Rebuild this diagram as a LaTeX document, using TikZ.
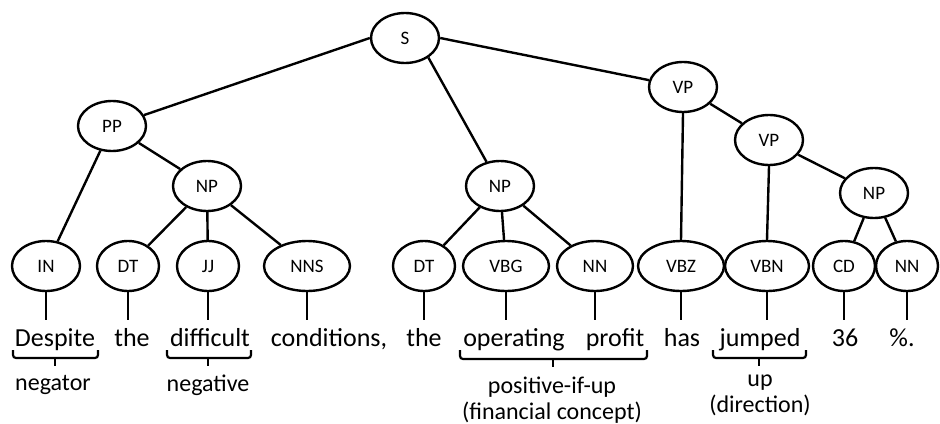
\documentclass[tikz,border=0pt]{standalone}
\usepackage{fontspec}
\setmainfont{Carlito}
\usetikzlibrary{shapes.geometric}

\begin{document}
\begin{tikzpicture}[
            x=0.5pt, y=-0.5pt,
            line width=1.2pt,
            phrase/.style={draw, ellipse, minimum width=34pt, minimum height=25pt,
                inner sep=0pt, font=\fontsize{9.5}{11}\selectfont},
            tag/.style={draw, ellipse, minimum height=25pt, inner sep=0pt,
                font=\fontsize{9.5}{11}\selectfont},
            word/.style={anchor=base, inner sep=3pt, text height=9.5pt, text depth=3pt,
                font=\fontsize{13}{15}\selectfont},
            note/.style={align=center, inner sep=0pt, font=\fontsize{12}{13}\selectfont},
            brk/.style={rounded corners=1.5pt, line width=1.1pt}
        ]
            \useasboundingbox (0,0) rectangle (940,423);

            % 短语结点
            \node[phrase] (s)   at (405,38)  {S};
            \node[phrase] (pp)  at (112,126) {PP};
            \node[phrase] (np1) at (207,186) {NP};
            \node[phrase] (np2) at (500,186) {NP};
            \node[phrase] (vp1) at (683,87)  {VP};
            \node[phrase] (vp2) at (769,140) {VP};
            \node[phrase] (np3) at (874,193) {NP};

            % 词性结点
            \node[tag, minimum width=34pt] (in)   at (46,266)  {IN};
            \node[tag, minimum width=31pt] (dt1)  at (128,266) {DT};
            \node[tag, minimum width=31pt] (jj)   at (208,266) {JJ};
            \node[tag, minimum width=43pt] (nns)  at (307,266) {NNS};
            \node[tag, minimum width=31pt] (dt2)  at (424,266) {DT};
            \node[tag, minimum width=43pt] (vbg)  at (506,266) {VBG};
            \node[tag, minimum width=38pt] (nn1)  at (595,266) {NN};
            \node[tag, minimum width=43pt] (vbz)  at (681,266) {VBZ};
            \node[tag, minimum width=42pt] (vbn)  at (767,266) {VBN};
            \node[tag, minimum width=31pt] (cd)   at (844,266) {CD};
            \node[tag, minimum width=31pt] (nn2)  at (907,266) {NN};

            % 句子
            \node[word] (despite)    at (55,346)  {Despite};
            \node[word] (the1)       at (132,346) {the};
            \node[word] (difficult)  at (210,346) {difficult};
            \node[word] (conditions) at (329,346) {conditions,};
            \node[word] (the2)       at (424,346) {the};
            \node[word] (operating)  at (514,346) {operating};
            \node[word] (profit)     at (615,346) {profit};
            \node[word] (has)        at (682,346) {has};
            \node[word] (jumped)     at (760,346) {jumped};
            \node[word] (num)        at (845,346) {36};
            \node[word] (pct)        at (902,346) {\%.};

            \draw (s.west) -- (pp);
            \draw (s.-40) -- (np2);
            \draw (s.east) -- (vp1);
            \draw (pp) -- (in);
            \draw (pp) -- (np1);
            \draw (np1) -- (dt1);
            \draw (np1) -- (jj);
            \draw (np1) -- (nns);
            \draw (np2) -- (dt2);
            \draw (np2) -- (vbg);
            \draw (np2) -- (nn1);
            \draw (vp1.south) -- (vbz.north);
            \draw (vp1) -- (vp2);
            \draw (vp2.south) -- (vbn.north);
            \draw (vp2) -- (np3);
            \draw (np3) -- (cd);
            \draw (np3) -- (nn2);

            \draw (in)  -- (in  |- despite.north);
            \draw (dt1) -- (dt1 |- the1.north);
            \draw (jj)  -- (jj  |- difficult.north);
            \draw (nns) -- (nns |- conditions.north);
            \draw (dt2) -- (dt2 |- the2.north);
            \draw (vbg) -- (vbg |- operating.north);
            \draw (nn1) -- (nn1 |- profit.north);
            \draw (vbz) -- (vbz |- has.north);
            \draw (vbn) -- (vbn |- jumped.north);
            \draw (cd)  -- (cd  |- num.north);
            \draw (nn2) -- (nn2 |- pct.north);

            % 括号和标注
            \draw[brk] (13,350) -- (13,358) -- (98,358) -- (98,350);
            \draw[brk] (55,358) -- (55,366);
            \node[note] (negator) at (53,385) {negator};

            \draw[brk] (167,350) -- (167,358) -- (251,358) -- (251,350);
            \draw[brk] (208,358) -- (208,366);
            \node[note] (negative) at (208,385) {negative};

            \draw[brk] (460,350) -- (460,359) -- (647,359) -- (647,350);
            \draw[brk] (553,359) -- (553,367);
            \node[note] (financial) at (552,400) {positive-if-up\\(financial concept)};

            \draw[brk] (713,350) -- (713,358) -- (806,358) -- (806,350);
            \draw[brk] (759,358) -- (759,366);
            \node[note] (direction) at (760,395) {up\\(direction)};

        \end{tikzpicture}
\end{document}
